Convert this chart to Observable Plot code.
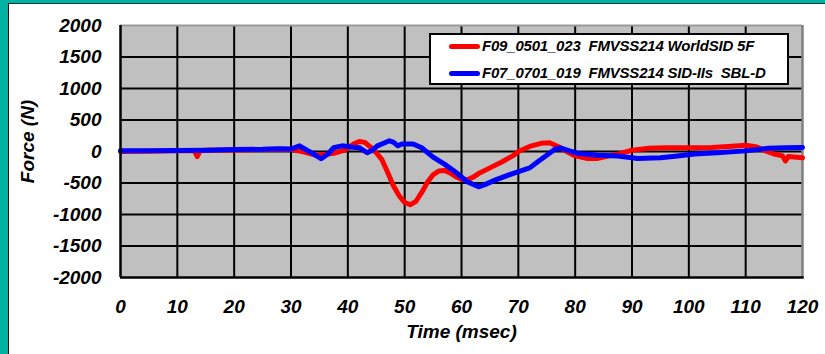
<!DOCTYPE html>
<html>
<head>
<meta charset="utf-8">
<script src="https://cdn.jsdelivr.net/npm/d3@7"></script>
<script src="https://cdn.jsdelivr.net/npm/@observablehq/plot@0.6"></script>
<style>
  html, body { margin: 0; padding: 0; background: #00b3a0; }
  #wrap { position: relative; width: 825px; height: 354px; overflow: hidden; background: #00b3a0; }
  #panel { position: absolute; left: 8px; top: 3px; right: 0; bottom: 0; background: #fff;
           border-left: 1.5px solid #111; border-top: 1px solid #134; }
  #chart { position: absolute; left: 0; top: 0; }
  #legend { position: absolute; left: 429px; top: 33px; width: 356px; height: 48px;
            background: #fff; border: 2px solid #000;
            font: italic bold 15px "Liberation Sans", Arial, sans-serif; letter-spacing: -0.2px; color: #000; }
  .row { position: absolute; left: 18px; white-space: pre; }
  .swatch { display: inline-block; width: 31px; height: 5px; border-radius: 3px; vertical-align: middle; margin-right: 2px; position: relative; top: -1px; }
</style>
</head>
<body>
<div id="wrap">
  <div id="panel"></div>
  <div id="chart"></div>
  <div id="legend"></div>
</div>
<script>
// ---- data ----
const seriesNames = ["F09_0501_023  FMVSS214 WorldSID 5F", "F07_0701_019  FMVSS214 SID-IIs  SBL-D"];
const seriesColors = ["#ff0000", "#0000ff"];

const redT = [0, 5, 10, 13, 13.5, 14, 15, 20, 25, 28, 30, 32, 34.5, 37.5, 39, 40, 41, 42, 43, 44, 45, 46, 47, 48, 49, 50, 51, 52, 53, 54, 55, 56, 57, 58, 59, 60, 61, 62, 63, 65, 67, 69, 70, 72, 74, 75.5, 77, 78.5, 80, 82, 84, 86, 88, 90, 93, 96, 100, 104, 107, 110, 112, 113.5, 115, 116.5, 117, 117.5, 119, 120];
const redF = [0, 5, 10, 10, -80, 10, 20, 25, 30, 35, 30, 0, -60, -30, 10, 50, 120, 160, 145, 70, -20, -130, -330, -540, -700, -810, -845, -790, -650, -490, -370, -310, -300, -340, -400, -440, -450, -410, -350, -260, -170, -70, 0, 80, 130, 140, 80, 0, -70, -110, -110, -70, -30, 20, 50, 60, 60, 65, 80, 100, 70, 10, -40, -70, -150, -80, -90, -100];

const blueT = [0, 5, 10, 15, 20, 25, 28, 30, 31.5, 32.8, 34, 35.3, 36.5, 37.5, 39, 40.5, 42, 43.4, 44.3, 45.2, 46.5, 47.3, 48, 48.8, 49.5, 51.5, 53, 55, 57, 59, 61, 63, 64, 66, 69, 72, 73.6, 75, 76.5, 77.5, 79, 80.5, 84, 87.5, 91, 95, 98, 101, 105, 110, 114, 117, 120];
const blueF = [10, 10, 15, 20, 30, 35, 45, 40, 90, 20, -40, -115, -40, 60, 90, 70, 60, -20, 20, 90, 140, 170, 150, 90, 120, 120, 60, -90, -200, -330, -480, -560, -530, -450, -350, -260, -150, -60, 40, 55, 10, -30, -60, -70, -110, -100, -70, -40, -20, 10, 50, 60, 65];

const xTicks = [0, 10, 20, 30, 40, 50, 60, 70, 80, 90, 100, 110, 120];
const yTicks = [-2000, -1500, -1000, -500, 0, 500, 1000, 1500, 2000];
const xLabel = "Time (msec)";
const yLabel = "Force (N)";

// ---- build tables ----
const red = redT.map((t, i) => ({t, f: redF[i]}));
const blue = blueT.map((t, i) => ({t, f: blueF[i]}));
const xInner = xTicks.slice(1, -1);
const yInner = yTicks.slice(1, -1);

const font = '"Liberation Sans", Arial, sans-serif';
const txt = {fontSize: 19, fontWeight: "bold", fontStyle: "italic"};

const chart = Plot.plot({
  width: 825,
  height: 354,
  marginLeft: 120,
  marginRight: 23,
  marginTop: 25,
  marginBottom: 77,
  style: {background: "transparent", fontFamily: font, fontSize: "19px", fontWeight: "bold", fontStyle: "italic", color: "#000", overflow: "visible"},
  x: {domain: [0, 120], axis: null},
  y: {domain: [-2000, 2000], axis: null},
  marks: [
    Plot.frame({fill: "#c0c0c0", stroke: null}),
    Plot.ruleX(xInner, {stroke: "#000", strokeWidth: 2}),
    Plot.ruleY(yInner, {stroke: "#000", strokeWidth: 2}),
    Plot.ruleY([2000], {stroke: "#9a9a9a", strokeWidth: 2}),
    Plot.ruleX([120], {stroke: "#808080", strokeWidth: 2.5}),
    Plot.line(red, {x: "t", y: "f", stroke: seriesColors[0], strokeWidth: 5, strokeLinejoin: "round", strokeLinecap: "round"}),
    Plot.line(blue, {x: "t", y: "f", stroke: seriesColors[1], strokeWidth: 5, strokeLinejoin: "round", strokeLinecap: "round"}),
    Plot.ruleX([0], {stroke: "#000", strokeWidth: 2.5}),
    Plot.ruleY([-2000], {stroke: "#000", strokeWidth: 2.5, x1: 0, x2: 120.3}),
    Plot.axisX(xTicks, {tickSize: 0, tickPadding: 22, label: null, tickFormat: d => String(d), ...txt}),
    Plot.axisY(yTicks, {tickSize: 0, tickPadding: 19, label: null, tickFormat: d => String(d), ...txt}),
    Plot.text([xLabel], {frameAnchor: "bottom", lineAnchor: "middle", textAnchor: "middle", dy: 54, ...txt}),
    Plot.text([yLabel], {frameAnchor: "left", lineAnchor: "middle", textAnchor: "middle", rotate: -90, dx: -93, dy: -10, ...txt})
  ]
});
document.getElementById("chart").appendChild(chart);

// ---- legend ----
const legend = document.getElementById("legend");
seriesNames.forEach((name, i) => {
  const row = document.createElement("div");
  row.className = "row";
  row.style.top = (i === 0 ? 2 : 29) + "px";
  const sw = document.createElement("span");
  sw.className = "swatch";
  sw.style.background = seriesColors[i];
  row.appendChild(sw);
  row.appendChild(document.createTextNode(name));
  legend.appendChild(row);
});
</script>
</body>
</html>
